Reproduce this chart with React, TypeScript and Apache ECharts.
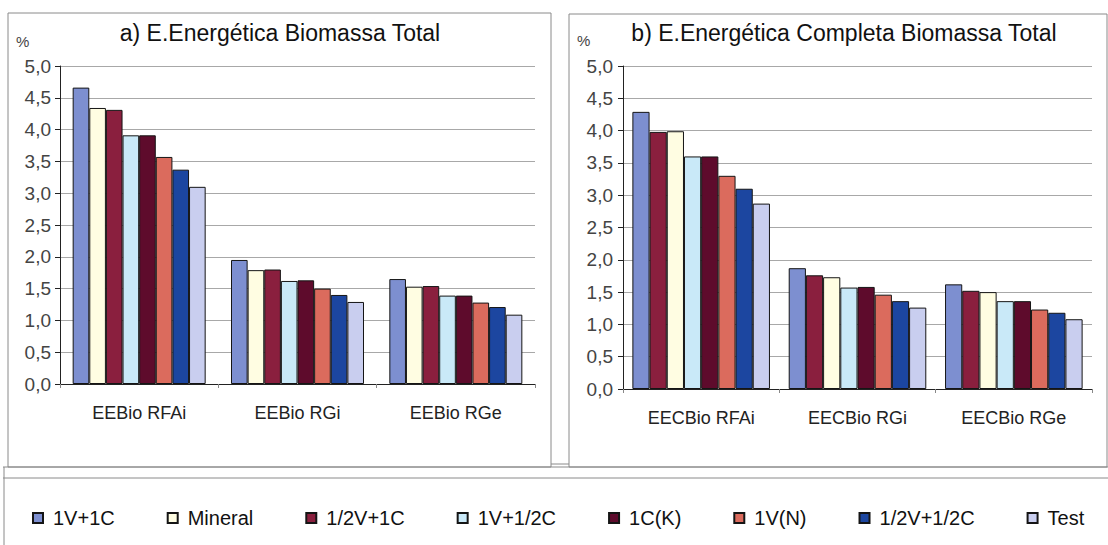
import React, { useEffect, useRef } from "react";
import * as echarts from "echarts";

// ---- data ----
const seriesNames = ["1V+1C", "Mineral", "1/2V+1C", "1V+1/2C", "1C(K)", "1V(N)", "1/2V+1/2C", "Test"];
const seriesColors = ["#7d8fd0", "#fffde2", "#8a1f3e", "#c9e9f8", "#5e0b2c", "#db6b5d", "#1c46a0", "#c9ceef"];

const catsA = ["EEBio RFAi", "EEBio RGi", "EEBio RGe"];
const catsB = ["EECBio RFAi", "EECBio RGi", "EECBio RGe"];
const yTicks = [0, 0.5, 1, 1.5, 2, 2.5, 3, 3.5, 4, 4.5, 5];

// chart a) values, per series, per category
const a_1V1C = [4.66, 1.95, 1.65];
const a_Mineral = [4.34, 1.79, 1.53];
const a_halfV1C = [4.31, 1.8, 1.54];
const a_1VhalfC = [3.91, 1.62, 1.39];
const a_1CK = [3.91, 1.63, 1.39];
const a_1VN = [3.57, 1.5, 1.28];
const a_halfVhalfC = [3.37, 1.4, 1.21];
const a_Test = [3.1, 1.29, 1.09];

// chart b) values
const b_1V1C = [4.29, 1.87, 1.62];
const b_halfV1C = [3.98, 1.76, 1.52];
const b_Mineral = [3.99, 1.73, 1.5];
const b_1VhalfC = [3.6, 1.57, 1.36];
const b_1CK = [3.6, 1.58, 1.36];
const b_1VN = [3.3, 1.46, 1.23];
const b_halfVhalfC = [3.1, 1.36, 1.18];
const b_Test = [2.87, 1.26, 1.08];

// drawing order of bars in each chart
const orderA: [string, number[]][] = [
  ["1V+1C", a_1V1C],
  ["Mineral", a_Mineral],
  ["1/2V+1C", a_halfV1C],
  ["1V+1/2C", a_1VhalfC],
  ["1C(K)", a_1CK],
  ["1V(N)", a_1VN],
  ["1/2V+1/2C", a_halfVhalfC],
  ["Test", a_Test],
];
const orderB: [string, number[]][] = [
  ["1V+1C", b_1V1C],
  ["1/2V+1C", b_halfV1C],
  ["Mineral", b_Mineral],
  ["1V+1/2C", b_1VhalfC],
  ["1C(K)", b_1CK],
  ["1V(N)", b_1VN],
  ["1/2V+1/2C", b_halfVhalfC],
  ["Test", b_Test],
];

const FONT = "'Liberation Sans', Arial, sans-serif";

function colorOf(name: string) {
  return seriesColors[seriesNames.indexOf(name)];
}

export default function App() {
  const ref = useRef<HTMLDivElement>(null);
  useEffect(() => {
    document.body.style.margin = "0";
    if (!ref.current) return;
    const chart = echarts.init(ref.current, undefined, { renderer: "svg" });

    const yAxisCommon = (labelMargin: number) => ({
      type: "value" as const,
      min: 0,
      max: 5,
      interval: 0.5,
      axisLine: { show: true, lineStyle: { color: "#222", width: 1 } },
      axisTick: { show: true, inside: false, length: 5, lineStyle: { color: "#222" } },
      splitLine: { show: true, lineStyle: { color: "#a8a8a8", width: 1 } },
      axisLabel: {
        color: "#444",
        fontSize: 19,
        fontFamily: FONT,
        margin: labelMargin,
        formatter: (v: number) => (yTicks.includes(v) ? v.toFixed(1).replace(".", ",") : ""),
      },
    });

    const xAxisCommon = (cats: string[], gridIndex: number) => ({
      type: "category" as const,
      gridIndex,
      data: cats,
      axisLine: { show: true, lineStyle: { color: "#222", width: 1 } },
      axisTick: { show: true, length: 4, lineStyle: { color: "#888" } },
      axisLabel: { color: "#222", fontSize: 18, fontFamily: FONT, margin: 20 },
    });

    const mk = (list: [string, number[]][], axisIndex: number, gap: string) =>
      list.map(([name, data]) => ({
        type: "bar" as const,
        name,
        xAxisIndex: axisIndex,
        yAxisIndex: axisIndex,
        data,
        barGap: "0%",
        barCategoryGap: gap,
        itemStyle: { color: colorOf(name), borderColor: "#151515", borderWidth: 1 },
        emphasis: { disabled: true },
      }));

    chart.setOption({
      animation: false,
      backgroundColor: "#ffffff",
      textStyle: { fontFamily: FONT },
      grid: [
        { left: 60, top: 66, width: 475, height: 318 },
        { left: 623, top: 66, width: 469, height: 323 },
      ],
      xAxis: [xAxisCommon(catsA, 0), xAxisCommon(catsB, 1)],
      yAxis: [
        { ...yAxisCommon(9), gridIndex: 0 },
        { ...yAxisCommon(10), gridIndex: 1 },
      ],
      legend: {
        data: seriesNames,
        left: 27,
        top: 503,
        width: 1075,
        orient: "horizontal",
        icon: "rect",
        itemWidth: 10,
        itemHeight: 10,
        itemGap: 52,
        selectedMode: false,
        textStyle: { color: "#111", fontSize: 20, fontFamily: FONT, padding: [0, 0, 0, 5] },
      },
      graphic: [
        { type: "rect", shape: { x: 8, y: 13, width: 543, height: 454 }, style: { fill: "none", stroke: "#8a8a8a", lineWidth: 1 }, silent: true },
        { type: "rect", shape: { x: 569, y: 14, width: 538, height: 453 }, style: { fill: "none", stroke: "#8a8a8a", lineWidth: 1 }, silent: true },
        { type: "line", shape: { x1: 551, y1: 464, x2: 569, y2: 464 }, style: { stroke: "#8a8a8a", lineWidth: 1 }, silent: true },
        { type: "line", shape: { x1: 3, y1: 467, x2: 1108, y2: 467 }, style: { stroke: "#8a8a8a", lineWidth: 1 }, silent: true },
        { type: "line", shape: { x1: 3, y1: 478, x2: 1108, y2: 478 }, style: { stroke: "#8a8a8a", lineWidth: 1 }, silent: true },
        { type: "line", shape: { x1: 4, y1: 467, x2: 4, y2: 545 }, style: { stroke: "#8a8a8a", lineWidth: 1 }, silent: true },
        {
          type: "text", x: 280, y: 33,
          style: { text: "a) E.Energética Biomassa Total", fill: "#111", fontSize: 23, fontFamily: FONT, align: "center", verticalAlign: "middle" },
        },
        {
          type: "text", x: 844, y: 33,
          style: { text: "b) E.Energética Completa Biomassa Total", fill: "#111", fontSize: 23, fontFamily: FONT, align: "center", verticalAlign: "middle" },
        },
        { type: "text", left: 16, top: 34, style: { text: "%", fill: "#444", fontSize: 15, fontFamily: FONT } },
        { type: "text", left: 577, top: 33, style: { text: "%", fill: "#444", fontSize: 15, fontFamily: FONT } },
      ],
      series: [...mk(orderA, 0, "16%"), ...mk(orderB, 1, "12%")],
    });

    return () => chart.dispose();
  }, []);
  return <div ref={ref} style={{ width: 1108, height: 545 }} />;
}
